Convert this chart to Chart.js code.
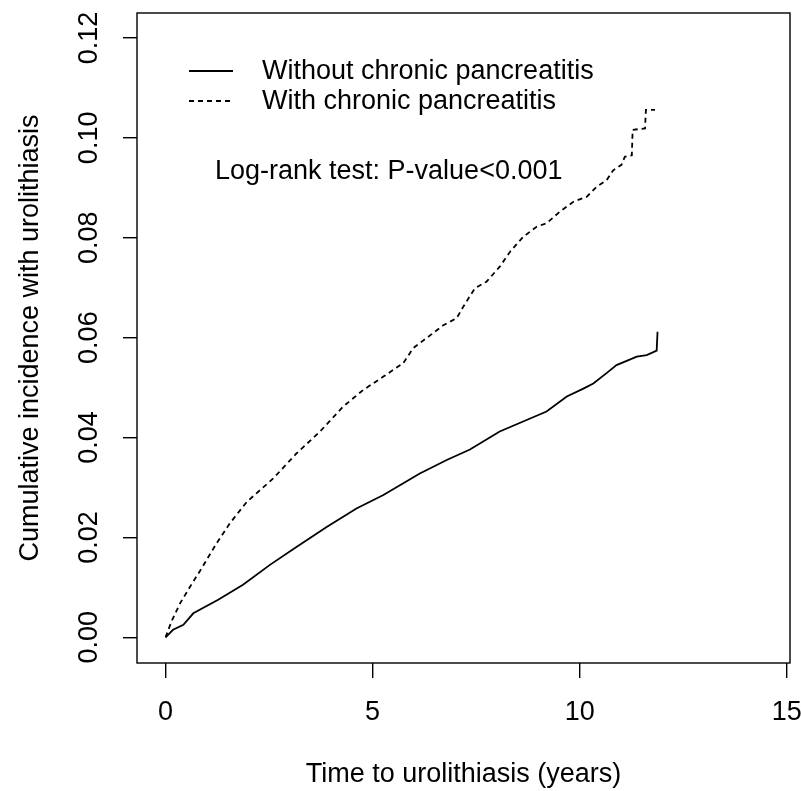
<!DOCTYPE html>
<html>
<head>
<meta charset="utf-8">
<script src="https://cdn.jsdelivr.net/npm/chart.js@4"></script>
<style>
  html, body { margin: 0; padding: 0; background: #fff; }
  #wrap { width: 801px; height: 791px; position: relative; }
</style>
</head>
<body>
<div id="wrap"><canvas id="c" width="801" height="791"></canvas></div>
<script>
// ---- data ----
const withoutCPYears = [0, 0.18, 0.43, 0.67, 1.27, 1.87, 2.52, 3.16, 3.89, 4.61, 5.26, 6.14, 6.79, 7.35, 8.07, 8.72, 9.20, 9.69, 10.09, 10.33, 10.65, 10.89, 11.38, 11.62, 11.86, 11.88, 11.90];
const withoutCPIncidence = [0, 0.0015, 0.0025, 0.0048, 0.0075, 0.0105, 0.0145, 0.0181, 0.0221, 0.0258, 0.0285, 0.0328, 0.0355, 0.0376, 0.0412, 0.0435, 0.0452, 0.0482, 0.0498, 0.0508, 0.0529, 0.0545, 0.0562, 0.0565, 0.0574, 0.0610, 0.0610];

const withCPYears = [0, 0.14, 0.35, 0.59, 0.87, 1.23, 1.55, 1.96, 2.60, 3.16, 3.73, 4.29, 4.77, 5.26, 5.74, 5.98, 6.30, 6.71, 7.03, 7.19, 7.47, 7.75, 8.07, 8.32, 8.64, 8.96, 9.20, 9.52, 9.85, 10.17, 10.41, 10.65, 10.81, 11.01, 11.09, 11.26, 11.28, 11.58, 11.60, 11.82];
const withCPIncidence = [0, 0.0031, 0.0068, 0.0101, 0.0138, 0.0188, 0.0228, 0.0271, 0.0318, 0.0368, 0.0412, 0.0462, 0.0495, 0.0522, 0.0549, 0.0579, 0.0599, 0.0625, 0.0639, 0.0662, 0.0699, 0.0712, 0.0742, 0.0772, 0.0802, 0.0822, 0.0829, 0.0852, 0.0872, 0.0882, 0.0902, 0.0915, 0.0935, 0.0946, 0.0962, 0.0965, 0.1016, 0.1019, 0.1056, 0.1056];

const xTicks = [0, 5, 10, 15];
const yTicks = [0, 0.02, 0.04, 0.06, 0.08, 0.10, 0.12];
const seriesLabels = ["Without chronic pancreatitis", "With chronic pancreatitis"];
const annotationText = "Log-rank test: P-value<0.001";
const xTitle = "Time to urolithiasis (years)";
const yTitle = "Cumulative incidence with urolithiasis";

// ---- rendering ----
const FONT = "'Liberation Sans', Arial, sans-serif";
const toPts = (xs, ys) => xs.map((x, i) => ({ x: x, y: ys[i] }));

const boxPlugin = {
  id: 'rbox',
  afterDraw(chart) {
    const { ctx, chartArea: a } = chart;
    ctx.save();
    ctx.strokeStyle = '#000';
    ctx.lineWidth = 1.4;
    ctx.strokeRect(a.left, a.top, a.right - a.left, a.bottom - a.top);

    // legend (R style, inside plot)
    const lx0 = a.left + 52, lx1 = a.left + 96, tx = a.left + 125;
    const rows = [58, 88];
    ctx.lineWidth = 1.8;
    ctx.strokeStyle = '#000';
    ctx.fillStyle = '#000';
    ctx.font = '27px ' + FONT;
    ctx.textBaseline = 'middle';
    ctx.textAlign = 'left';
    chart.data.datasets.forEach((ds, i) => {
      const y = a.top + rows[i];
      ctx.setLineDash(ds.borderDash || []);
      ctx.beginPath();
      ctx.moveTo(lx0, y);
      ctx.lineTo(lx1, y);
      ctx.stroke();
      ctx.setLineDash([]);
      ctx.fillText(ds.label, tx, y + 1);
    });
    ctx.fillText(annotationText, a.left + 78, a.top + 159);
    ctx.restore();
  }
};

new Chart(document.getElementById('c'), {
  type: 'scatter',
  data: {
    datasets: [
      {
        label: seriesLabels[0],
        data: toPts(withoutCPYears, withoutCPIncidence),
        showLine: true,
        borderColor: '#000',
        borderWidth: 1.8,
        pointRadius: 0,
        tension: 0,
        fill: false
      },
      {
        label: seriesLabels[1],
        data: toPts(withCPYears, withCPIncidence),
        showLine: true,
        borderColor: '#000',
        borderWidth: 1.8,
        borderDash: [5, 4],
        pointRadius: 0,
        tension: 0,
        fill: false
      }
    ]
  },
  options: {
    responsive: false,
    animation: false,
    devicePixelRatio: 1,
    layout: { padding: { top: 13, right: 11, left: 0, bottom: 0 } },
    plugins: {
      legend: { display: false },
      tooltip: { enabled: false },
      title: { display: false }
    },
    scales: {
      x: {
        type: 'linear',
        min: -0.69,
        max: 15.08,
        afterBuildTicks: s => { s.ticks = xTicks.map(v => ({ value: v })); },
        afterFit: s => { s.height = 128; s.paddingLeft = 0; s.paddingRight = 0; },
        grid: { display: true, drawOnChartArea: false, drawTicks: true, tickLength: 15, color: '#000', lineWidth: 1.4 },
        border: { display: false },
        ticks: {
          color: '#000',
          font: { family: FONT, size: 27 },
          padding: 18,
          maxRotation: 0,
          minRotation: 0,
          callback: v => String(v)
        },
        title: {
          display: true,
          text: xTitle,
          color: '#000',
          font: { family: FONT, size: 27, lineHeight: 1.2 },
          padding: { top: 0, bottom: 0 }
        }
      },
      y: {
        type: 'linear',
        min: -0.00515,
        max: 0.125,
        afterBuildTicks: s => { s.ticks = yTicks.map(v => ({ value: v })); },
        afterFit: s => { s.width = 137; s.paddingTop = 0; s.paddingBottom = 0; },
        grid: { display: true, drawOnChartArea: false, drawTicks: true, tickLength: 14, color: '#000', lineWidth: 1.4 },
        border: { display: false },
        ticks: {
          color: '#000',
          font: { family: FONT, size: 27 },
          padding: 7,
          minRotation: 90,
          maxRotation: 90,
          crossAlign: 'center',
          callback: v => v.toFixed(2)
        },
        title: {
          display: true,
          text: yTitle,
          color: '#000',
          font: { family: FONT, size: 27, lineHeight: 1.2 },
          padding: { top: 14, bottom: 0 }
        }
      }
    }
  },
  plugins: [boxPlugin]
});
</script>
</body>
</html>
